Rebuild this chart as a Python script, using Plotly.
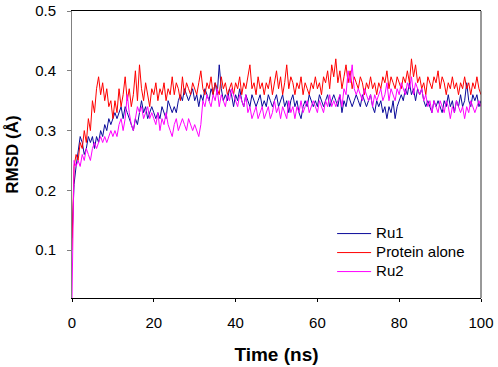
import plotly.graph_objects as go

# Time axis (ns), 0.5 ns sampling
time_ns = [i * 0.5 for i in range(201)]

protein_alone = [
    0.10, 0.24, 0.26, 0.25, 0.28, 0.27, 0.30, 0.28, 0.32, 0.30,
    0.35, 0.33, 0.37, 0.39, 0.36, 0.38, 0.35, 0.37, 0.34, 0.35,
    0.32, 0.35, 0.33, 0.37, 0.34, 0.36, 0.39, 0.35, 0.37, 0.34,
    0.36, 0.40, 0.35, 0.41, 0.37, 0.35, 0.38, 0.36, 0.34, 0.37,
    0.36, 0.38, 0.35, 0.37, 0.36, 0.38, 0.35, 0.37, 0.36, 0.39,
    0.36, 0.38, 0.37, 0.35, 0.39, 0.36, 0.38, 0.37, 0.36, 0.38,
    0.37, 0.36, 0.38, 0.40, 0.37, 0.36, 0.38, 0.37, 0.39, 0.36,
    0.38, 0.37, 0.36, 0.39, 0.37, 0.38, 0.36, 0.37, 0.38, 0.36,
    0.38, 0.37, 0.39, 0.36, 0.38, 0.37, 0.39, 0.41, 0.37, 0.38,
    0.36, 0.39, 0.37, 0.38, 0.36, 0.38, 0.37, 0.39, 0.36, 0.38,
    0.40, 0.37, 0.39, 0.36, 0.38, 0.41, 0.37, 0.39, 0.38, 0.36,
    0.38, 0.37, 0.39, 0.36, 0.38, 0.37, 0.36, 0.38, 0.37, 0.39,
    0.37, 0.38, 0.36, 0.39, 0.38, 0.40, 0.37, 0.41, 0.39, 0.42,
    0.38, 0.40, 0.37, 0.39, 0.41, 0.38, 0.40, 0.37, 0.39, 0.38,
    0.37, 0.39, 0.38, 0.36, 0.38, 0.37, 0.39, 0.37, 0.38, 0.36,
    0.38, 0.37, 0.39, 0.38, 0.40, 0.37, 0.39, 0.38, 0.37, 0.39,
    0.38, 0.37, 0.39, 0.38, 0.40, 0.38, 0.42, 0.39, 0.41, 0.38,
    0.39, 0.37, 0.38, 0.36, 0.39, 0.38, 0.37, 0.39, 0.38, 0.40,
    0.37, 0.39, 0.38, 0.36, 0.38, 0.37, 0.39, 0.37, 0.38, 0.36,
    0.38, 0.37, 0.39, 0.37, 0.38, 0.36, 0.38, 0.37, 0.39, 0.37,
    0.36,
]

ru1 = [
    0.12, 0.21, 0.24, 0.27, 0.29, 0.28, 0.26, 0.27, 0.29, 0.28,
    0.29, 0.27, 0.29, 0.28, 0.30, 0.29, 0.31, 0.30, 0.32, 0.31,
    0.32, 0.33, 0.32, 0.33, 0.34, 0.32, 0.34, 0.33, 0.32, 0.31,
    0.30, 0.32, 0.31, 0.33, 0.35, 0.33, 0.34, 0.32, 0.33, 0.34,
    0.33, 0.32, 0.33, 0.32, 0.34, 0.33, 0.32, 0.35, 0.34, 0.33,
    0.34, 0.33, 0.35, 0.36, 0.35, 0.37, 0.36, 0.35, 0.36, 0.37,
    0.35, 0.36, 0.34, 0.36, 0.35, 0.37, 0.36, 0.35, 0.37, 0.36,
    0.38, 0.36, 0.41, 0.37, 0.35, 0.36, 0.35, 0.37, 0.36, 0.34,
    0.36, 0.35, 0.37, 0.35, 0.34, 0.36, 0.35, 0.34, 0.36, 0.35,
    0.34, 0.35, 0.36, 0.34, 0.35, 0.34, 0.36, 0.35, 0.34, 0.35,
    0.36, 0.34, 0.35, 0.36, 0.34, 0.35, 0.33, 0.35, 0.36, 0.34,
    0.35, 0.33, 0.32, 0.34, 0.35, 0.34, 0.36, 0.35, 0.34, 0.35,
    0.34, 0.36, 0.35, 0.34, 0.35, 0.36, 0.34, 0.35, 0.36, 0.35,
    0.34, 0.36, 0.33, 0.35, 0.34, 0.36, 0.35, 0.34, 0.35, 0.36,
    0.35, 0.34, 0.36, 0.35, 0.34, 0.35, 0.36, 0.34, 0.33, 0.35,
    0.34, 0.35, 0.33, 0.34, 0.32, 0.34, 0.33, 0.35, 0.32, 0.34,
    0.35, 0.36, 0.35, 0.37, 0.36, 0.38, 0.36, 0.37, 0.35, 0.37,
    0.36, 0.37, 0.35, 0.34, 0.35, 0.34, 0.33, 0.35, 0.34, 0.35,
    0.34, 0.33, 0.35, 0.34, 0.36, 0.34, 0.35, 0.33, 0.35, 0.34,
    0.36, 0.34, 0.35, 0.38, 0.35, 0.34, 0.36, 0.35, 0.36, 0.34,
    0.35,
]

ru2 = [
    0.02, 0.25, 0.24, 0.25, 0.24, 0.26, 0.25, 0.27, 0.26, 0.25,
    0.27, 0.28, 0.27, 0.28, 0.29, 0.28, 0.29, 0.28, 0.29, 0.30,
    0.29, 0.30, 0.29, 0.31, 0.32, 0.30, 0.32, 0.36, 0.33, 0.31,
    0.30, 0.32, 0.34, 0.33, 0.34, 0.32, 0.33, 0.34, 0.32, 0.33,
    0.32, 0.31, 0.33, 0.30, 0.32, 0.31, 0.33, 0.31, 0.30, 0.29,
    0.31, 0.32, 0.30, 0.31, 0.32, 0.31, 0.30, 0.32, 0.31, 0.30,
    0.31, 0.30, 0.29, 0.31, 0.35, 0.34, 0.36, 0.35, 0.34, 0.36,
    0.35, 0.37, 0.34, 0.36, 0.35, 0.34, 0.36, 0.35, 0.37, 0.36,
    0.35, 0.34, 0.36, 0.35, 0.34, 0.36, 0.33, 0.34, 0.32, 0.33,
    0.34, 0.32, 0.33, 0.34, 0.32, 0.33, 0.34, 0.32, 0.33, 0.35,
    0.33, 0.34, 0.32, 0.34, 0.33, 0.32, 0.35, 0.33, 0.34, 0.32,
    0.34, 0.33, 0.35, 0.33, 0.34, 0.35, 0.33, 0.34, 0.35, 0.34,
    0.33, 0.35, 0.34, 0.33, 0.35, 0.34, 0.36, 0.34, 0.35, 0.34,
    0.35, 0.36, 0.34, 0.37, 0.36, 0.40, 0.38, 0.41, 0.37, 0.36,
    0.37, 0.36, 0.35, 0.37, 0.36, 0.35, 0.36, 0.34, 0.36, 0.35,
    0.36, 0.37, 0.35, 0.36, 0.38, 0.35, 0.37, 0.36, 0.35, 0.37,
    0.36, 0.38, 0.37, 0.36, 0.38, 0.37, 0.39, 0.36, 0.38, 0.37,
    0.36, 0.37, 0.35, 0.36, 0.34, 0.35, 0.33, 0.35, 0.34, 0.33,
    0.35, 0.34, 0.33, 0.35, 0.34, 0.32, 0.34, 0.33, 0.35, 0.34,
    0.33, 0.34, 0.32, 0.34, 0.33, 0.35, 0.34, 0.33, 0.34, 0.35,
    0.34,
]

x_ticks = [0, 20, 40, 60, 80, 100]
y_ticks = [0.1, 0.2, 0.3, 0.4, 0.5]
y_tick_labels = ["0.1", "0.2", "0.3", "0.4", "0.5"]
series_names = ["Ru1", "Protein alone", "Ru2"]

FONT = "Liberation Sans, Arial, sans-serif"


def legend_label(name):
    return '<span style="font-size:15px">' + name + "</span>"


fig = go.Figure()
fig.add_trace(go.Scatter(x=time_ns, y=ru1, mode="lines", name=legend_label(series_names[0]),
                         line=dict(color="#0a0a9a", width=1)))
fig.add_trace(go.Scatter(x=time_ns, y=protein_alone, mode="lines", name=legend_label(series_names[1]),
                         line=dict(color="#ff0000", width=1)))
fig.add_trace(go.Scatter(x=time_ns, y=ru2, mode="lines", name=legend_label(series_names[2]),
                         line=dict(color="#ff00ff", width=1)))

fig.update_layout(
    template="none",
    width=498, height=367,
    margin=dict(l=72, r=17, t=11, b=69),
    paper_bgcolor="white", plot_bgcolor="white",
    font=dict(family=FONT, size=15, color="black"),
    showlegend=True,
    legend=dict(x=0.636, y=0.275, xanchor="left", yanchor="top",
                bgcolor="rgba(0,0,0,0)", font=dict(size=11),
                itemwidth=34, tracegroupgap=0),
    xaxis=dict(range=[0, 100], tickvals=x_ticks, showgrid=False, zeroline=False,
               automargin=False,
               showline=True, linecolor="black", linewidth=1, mirror=True,
               ticks="outside", ticklen=3, tickcolor="black",
               tickfont=dict(size=15), ticklabelstandoff=8,
               title=dict(text="<b>Time (ns)</b>", font=dict(size=19), standoff=17)),
    yaxis=dict(range=[0.02, 0.5], tickvals=y_ticks, ticktext=y_tick_labels,
               showgrid=False, zeroline=False, automargin=False,
               showline=True, linecolor="#808080", linewidth=1,
               ticks="outside", ticklen=4, tickcolor="#808080",
               tickfont=dict(size=15), ticklabelstandoff=8,
               title=dict(text="<b>RMSD (Å)</b>", font=dict(size=17), standoff=12)),
    shapes=[dict(type="line", xref="paper", yref="paper", x0=1, x1=1, y0=0, y1=1,
                 line=dict(color="#333333", width=1))],
)

fig.write_html("out.html", config={"displayModeBar": False},
               post_script="document.body.style.margin='0';")
